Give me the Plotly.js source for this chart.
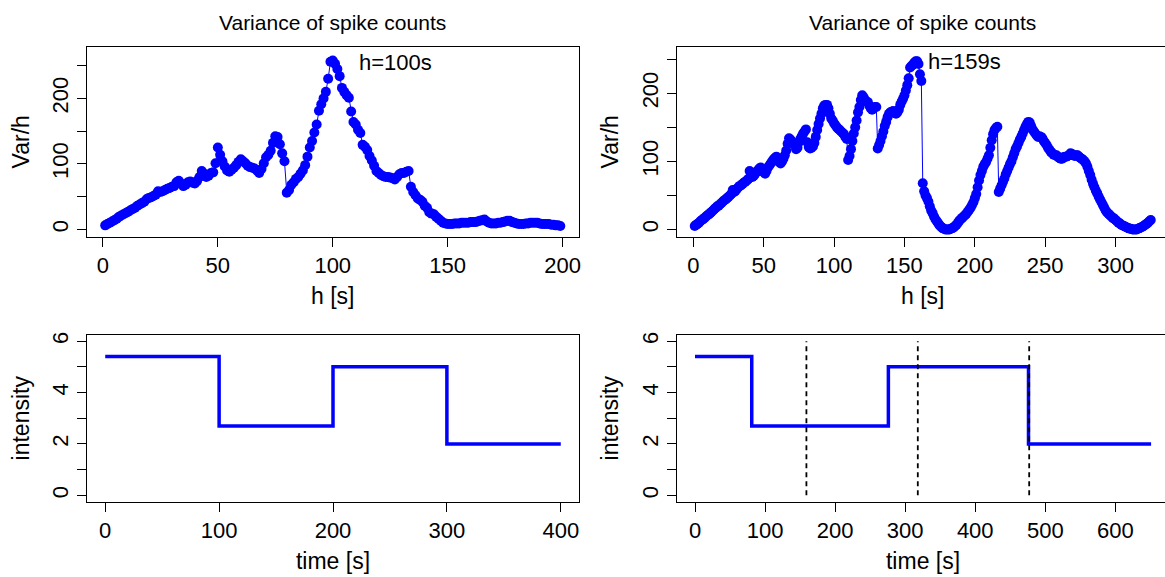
<!DOCTYPE html>
<html>
<head>
<meta charset="utf-8">
<script src="https://cdn.plot.ly/plotly-3.0.1.min.js"></script>
<style>
html,body{margin:0;padding:0;overflow:hidden;background:#fff;}
#chart{width:1170px;height:577px;}
</style>
</head>
<body>
<div id="chart"></div>
<script>
// ---- data: left panel (true change points at 100,200,300 s) ----
const hLeft = [
1,2,3,4,5,6,7,8,9,10,11,12,13,14,15,16,17,18,19,20,
21,22,23,24,25,26,27,28,29,30,31,32,33,34,35,36,37,38,39,40,
41,42,43,44,45,46,47,48,49,50,51,52,53,54,55,56,57,58,59,60,
61,62,63,64,65,66,67,68,69,70,71,72,73,74,75,76,77,78,79,80,
81,82,83,84,85,86,87,88,89,90,91,92,93,94,95,96,97,98,99,100,
101,102,103,104,105,106,107,108,109,110,111,112,113,114,115,116,117,118,119,120,
121,122,123,124,125,126,127,128,129,130,131,132,133,134,135,136,137,138,139,140,
141,142,143,144,145,146,147,148,149,150,151,152,153,154,155,156,157,158,159,160,
161,162,163,164,165,166,167,168,169,170,171,172,173,174,175,176,177,178,179,180,
181,182,183,184,185,186,187,188,189,190,191,192,193,194,195,196,197,198,199];
const varLeft = [
6,8,10,12,14,16,19,21,23,25,
27,29,31,33,36,38,40,42,46,48,
49,51,53,58,57,58,60,62,63,65,
66,72,74,70,66,68,72,73,71,70,
74,80,89,85,80,82,86,87,101,125,
114,104,96,90,88,91,94,98,103,107,
104,101,97,95,94,93,90,86,92,101,
110,114,120,132,142,141,130,116,104,56,
60,68,72,77,80,85,90,98,111,125,
135,148,160,181,191,200,210,230,256,258,
253,245,234,216,210,205,201,180,164,160,
152,147,129,126,121,112,105,97,89,86,
83,81,80,80,79,78,76,80,84,86,
86,88,89,65,57,52,47,45,42,36,
33,26,24,23,19,16,13,10,9,8,
8,8,9,9,9,10,10,10,10,11,
11,11,12,13,14,15,12,10,9,9,
9,10,10,11,12,13,13,11,10,9,
8,8,8,9,9,10,10,10,10,9,
8,8,8,8,7,7,6,6,5];

// ---- data: right panel ----
const hRight = [
1,2,3,4,5,6,7,8,9,10,11,12,13,14,15,16,17,18,19,20,
21,22,23,24,25,26,27,28,29,30,31,32,33,34,35,36,37,38,39,40,
41,42,43,44,45,46,47,48,49,50,51,52,53,54,55,56,57,58,59,60,
61,62,63,64,65,66,67,68,69,70,71,72,73,74,75,76,77,78,79,80,
81,82,83,84,85,86,87,88,89,90,91,92,93,94,95,96,97,98,99,100,
101,102,103,104,105,106,107,108,109,110,111,112,113,114,115,116,117,118,119,120,
121,122,123,124,125,126,127,128,129,130,131,132,133,134,135,136,137,138,139,140,
141,142,143,144,145,146,147,148,149,150,151,152,153,154,155,156,157,158,159,160,
161,162,163,164,165,166,167,168,169,170,171,172,173,174,175,176,177,178,179,180,
181,182,183,184,185,186,187,188,189,190,191,192,193,194,195,196,197,198,199,200,
201,202,203,204,205,206,207,208,209,210,211,212,213,214,215,216,217,218,219,220,
221,222,223,224,225,226,227,228,229,230,231,232,233,234,235,236,237,238,239,240,
241,242,243,244,245,246,247,248,249,250,251,252,253,254,255,256,257,258,259,260,
261,262,263,264,265,266,267,268,269,270,271,272,273,274,275,276,277,278,279,280,
281,282,283,284,285,286,287,288,289,290,291,292,293,294,295,296,297,298,299,300,
301,302,303,304,305,306,307,308,309,310,311,312,313,314,315,316,317,318,319,320,
321,322,323,324,325];
const varRight = [
5,7,8,10,12,14,15,17,19,21,
22,24,26,28,30,32,34,35,37,39,
41,43,44,46,48,50,52,58,55,57,
60,62,64,65,67,69,70,72,74,86,
80,77,79,82,85,87,90,91,88,84,
82,86,91,94,97,100,103,105,107,104,
99,97,100,104,109,116,126,134,132,129,
127,124,118,120,128,133,137,141,144,147,
128,121,119,120,122,127,136,146,155,163,
170,178,182,183,183,178,170,163,160,156,
153,150,148,146,144,142,140,136,133,102,
108,118,130,141,150,160,172,180,190,197,
194,190,188,187,182,178,176,178,180,180,
119,124,130,137,144,152,158,165,170,172,
173,174,172,170,172,176,183,188,192,197,
204,212,222,238,240,242,245,247,247,243,
228,218,68,56,50,46,41,34,28,24,
19,15,12,9,6,4,2,1,0,0,
0,0,1,2,3,5,7,10,13,15,
17,19,21,23,26,29,32,36,40,46,
52,62,72,80,86,92,96,99,104,109,
120,131,140,146,149,151,55,60,65,70,
75,81,86,91,96,100,106,112,118,122,
127,132,136,141,146,151,155,158,157,152,
147,144,141,138,136,137,136,134,130,127,
124,120,117,114,112,110,109,109,107,105,
104,104,106,107,107,108,109,112,111,109,
108,109,109,107,105,104,102,100,97,92,
86,80,73,67,62,57,53,48,44,40,
36,32,28,25,23,21,19,17,16,14,
12,10,9,7,6,5,4,3,2,1,
1,0,0,0,0,1,2,3,4,5,
7,8,10,12,14];

// ---- step intensity functions ----
const timeLeft = [0,100,200,300,400];
const rateLeft = [5.4,2.7,5.0,2.0,2.0];
const timeRight = [0,81,276,476,651];
const rateRight = [5.4,2.7,5.0,2.0,2.0];
const cutPoints = [159,318,477];

// ---- labels ----
const panelTitle = "Variance of spike counts";
const optLeft = "h=100s", optLeftX = 100, optLeftY = 258;
const optRight = "h=159s", optRightX = 159, optRightY = 247;
const yTopVals = [0,50,100,150,200,250];
const yTopText = ["0","","100","","200",""];
const yBotVals = [0,1,2,3,4,5,6];
const yBotText = ["0","","2","","4","","6"];
const xTLVals = [0,50,100,150,200];
const xTRVals = [0,50,100,150,200,250,300];
const xBLVals = [0,100,200,300,400];
const xBRVals = [0,100,200,300,400,500,600];

// ---- layout geometry (pixels) ----
const W = 1170, H = 577;
const dx = (a,b)=>[a/W, b/W];
const dy = (top,bot)=>[(H-bot)/H, (H-top)/H];

const FONT = "Liberation Sans, Arial, Helvetica, sans-serif";
const BLUE = "#0000ff";

function ax(extra){
  return Object.assign({
    showline:true, linecolor:'#000', linewidth:1, mirror:true,
    ticks:'outside', ticklen:9, tickwidth:1, tickcolor:'#000',
    showgrid:false, zeroline:false, automargin:false,
    tickfont:{size:22, color:'#000', family:FONT},
    tickmode:'array'
  }, extra);
}

const traces = [
  {x:hLeft, y:varLeft, xaxis:'x', yaxis:'y', type:'scatter', mode:'lines+markers',
   line:{color:BLUE, width:1}, marker:{color:BLUE, size:10}, hoverinfo:'x+y'},
  {x:hRight, y:varRight, xaxis:'x2', yaxis:'y2', type:'scatter', mode:'lines+markers',
   line:{color:BLUE, width:1}, marker:{color:BLUE, size:10}, hoverinfo:'x+y'},
  {x:timeLeft, y:rateLeft, xaxis:'x3', yaxis:'y3', type:'scatter', mode:'lines',
   line:{color:BLUE, width:3.5, shape:'hv'}},
  {x:timeRight, y:rateRight, xaxis:'x4', yaxis:'y4', type:'scatter', mode:'lines',
   line:{color:BLUE, width:3.5, shape:'hv'}}
];
cutPoints.forEach(c=>{
  traces.push({x:[c,c], y:[0,6], xaxis:'x4', yaxis:'y4', type:'scatter', mode:'lines',
    line:{color:'#000', width:1.8, dash:'5px,4px'}, hoverinfo:'x'});
});

const layout = {
  width:W, height:H, showlegend:false,
  paper_bgcolor:'#fff', plot_bgcolor:'#fff',
  margin:{l:0,r:0,t:0,b:0},
  font:{family:FONT, color:'#000'},
  xaxis: ax({domain:dx(87,578.5), range:[-6.92,206.92], tickvals:xTLVals,
    title:{text:'h [s]', font:{size:23}, standoff:10}, anchor:'y'}),
  yaxis: ax({domain:dy(47,236.5), range:[-11,278.5], tickvals:yTopVals, ticktext:yTopText,
    tickangle:-90, title:{text:'Var/h', font:{size:23}, standoff:12}, anchor:'x'}),
  xaxis2: ax({domain:dx(676.5,1169), range:[-11.96,337.96], tickvals:xTRVals,
    title:{text:'h [s]', font:{size:23}, standoff:10}, anchor:'y2'}),
  yaxis2: ax({domain:dy(47,236.5), range:[-10.3,268], tickvals:yTopVals, ticktext:yTopText,
    tickangle:-90, title:{text:'Var/h', font:{size:23}, standoff:12}, anchor:'x2'}),
  xaxis3: ax({domain:dx(87,579), range:[-16,416], tickvals:xBLVals,
    title:{text:'time [s]', font:{size:23}, standoff:10}, anchor:'y3'}),
  yaxis3: ax({domain:dy(335,501.5), range:[-0.24,6.24], tickvals:yBotVals, ticktext:yBotText,
    tickangle:-90, title:{text:'intensity', font:{size:23}, standoff:12}, anchor:'x3'}),
  xaxis4: ax({domain:dx(676.8,1169.3), range:[-26,677], tickvals:xBRVals,
    title:{text:'time [s]', font:{size:23}, standoff:10}, anchor:'y4'}),
  yaxis4: ax({domain:dy(335,501.5), range:[-0.24,6.24], tickvals:yBotVals, ticktext:yBotText,
    tickangle:-90, title:{text:'intensity', font:{size:23}, standoff:12}, anchor:'x4'}),
  annotations:[
    {text:panelTitle, xref:'x domain', yref:'paper', x:0.5, y:1-22.3/H, xanchor:'center', yanchor:'middle',
     showarrow:false, font:{size:21}},
    {text:panelTitle, xref:'x2 domain', yref:'paper', x:0.5, y:1-22.3/H, xanchor:'center', yanchor:'middle',
     showarrow:false, font:{size:21}},
    {text:optLeft, xref:'x', yref:'y', x:optLeftX+10.5, y:optLeftY-3, xanchor:'left', yanchor:'middle',
     showarrow:false, font:{size:22}},
    {text:optRight, xref:'x2', yref:'y2', x:optRightX+6, y:optRightY, xanchor:'left', yanchor:'middle',
     showarrow:false, font:{size:22}}
  ]
};

Plotly.newPlot('chart', traces, layout, {staticPlot:true, displayModeBar:false});
</script>
</body>
</html>
